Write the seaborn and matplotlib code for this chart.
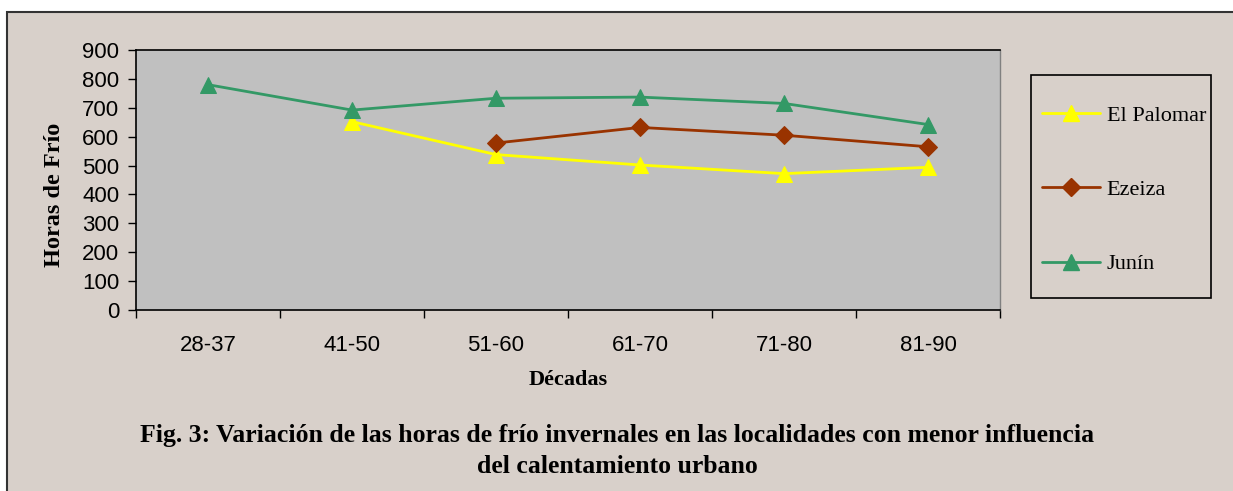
import numpy as np
import pandas as pd
import seaborn as sns
import matplotlib.pyplot as plt
from matplotlib.patches import Rectangle
from matplotlib.lines import Line2D

decadas = ['28-37', '41-50', '51-60', '61-70', '71-80', '81-90']
el_palomar = [np.nan, 652, 538, 502, 472, 494]
ezeiza = [np.nan, np.nan, 578, 632, 605, 565]
junin = [780, 692, 733, 737, 715, 642]

series = ['El Palomar', 'Ezeiza', 'Junín']
colores = {'El Palomar': '#FFFF00', 'Ezeiza': '#993300', 'Junín': '#339966'}
marcadores = {'El Palomar': '^', 'Ezeiza': 'D', 'Junín': '^'}

# formato largo para seaborn
df = pd.DataFrame({'El Palomar': el_palomar, 'Ezeiza': ezeiza, 'Junín': junin})
df['pos'] = range(len(decadas))
df = df.melt(id_vars='pos', var_name='serie', value_name='horas').dropna()

sns.set_theme(style='white')
plt.rcParams['font.family'] = ['Liberation Sans', 'DejaVu Sans']
plt.rcParams['text.color'] = 'black'
plt.rcParams['xtick.color'] = 'black'
plt.rcParams['ytick.color'] = 'black'

beige = '#D8D0CA'
fig = plt.figure(figsize=(12.33, 4.91), dpi=100, facecolor='white')
fig.patches.append(Rectangle((7 / 1233, -0.05), 1.1, 1 - 12 / 491 + 0.05,
                             transform=fig.transFigure, facecolor=beige,
                             edgecolor='#333333', linewidth=1.5, zorder=-10))

ax = fig.add_axes([136 / 1233, 1 - 310 / 491, 864 / 1233, 260 / 491])
ax.set_facecolor('#C0C0C0')

for s in series:
    sub = df[df['serie'] == s]
    sns.lineplot(data=sub, x='pos', y='horas', ax=ax, color=colores[s],
                 marker=marcadores[s], markersize=11 if marcadores[s] == '^' else 9,
                 markeredgecolor=colores[s], linewidth=2, legend=False)

ax.set_xlim(-0.5, len(decadas) - 0.5)
ax.set_ylim(0, 900)
ax.set_yticks(range(0, 901, 100))
ax.tick_params(axis='y', labelsize=16, length=6, width=1, color='black',
               direction='out', left=True, pad=6)
ax.set_xticks(np.arange(-0.5, len(decadas), 1.0))
ax.set_xticklabels([])
ax.tick_params(axis='x', which='major', length=6, width=1, color='black',
               direction='out', bottom=True)
ax.set_xticks(range(len(decadas)), minor=True)
ax.set_xticklabels(decadas, minor=True)
ax.tick_params(axis='x', which='minor', length=0, labelsize=16, pad=18)
ax.set_xlabel('')
ax.set_ylabel('')

for lado in ['left', 'bottom', 'top']:
    ax.spines[lado].set_color('black')
    ax.spines[lado].set_linewidth(1.2)
ax.spines['right'].set_color('#808080')
ax.spines['right'].set_linewidth(1)

serif = dict(family=['Liberation Serif', 'DejaVu Serif'], fontweight='bold')
fig.text(55 / 1233, 1 - 195 / 491, 'Horas de Frío', rotation=90,
         ha='center', va='center', fontsize=17.5, **serif)
fig.text(568 / 1233, 1 - 380 / 491, 'Décadas', ha='center', va='center',
         fontsize=16, **serif)
fig.text(617 / 1233, 1 - 451 / 491,
         'Fig. 3: Variación de las horas de frío invernales en las localidades con menor influencia\n'
         'del calentamiento urbano', ha='center', va='center', linespacing=1.4,
         fontsize=18.5, **serif)

# leyenda con marco dibujado aparte
fig.patches.append(Rectangle((1031 / 1233, 1 - 298 / 491), 180 / 1233, 223 / 491,
                             transform=fig.transFigure, facecolor='none',
                             edgecolor='black', linewidth=1.2))
handles = [Line2D([], [], color=colores[s], marker=marcadores[s], linewidth=2,
                  markersize=11 if marcadores[s] == '^' else 9,
                  markeredgecolor=colores[s]) for s in series]
fig.legend(handles, series, loc='upper left',
           bbox_to_anchor=(1031 / 1233, 1 - 94 / 491), frameon=False,
           prop={'family': 'Liberation Serif', 'size': 16},
           handlelength=2.6, handletextpad=0.3, labelspacing=2.42, borderpad=0)

fig.savefig('out.png', dpi=100, facecolor=fig.get_facecolor())
